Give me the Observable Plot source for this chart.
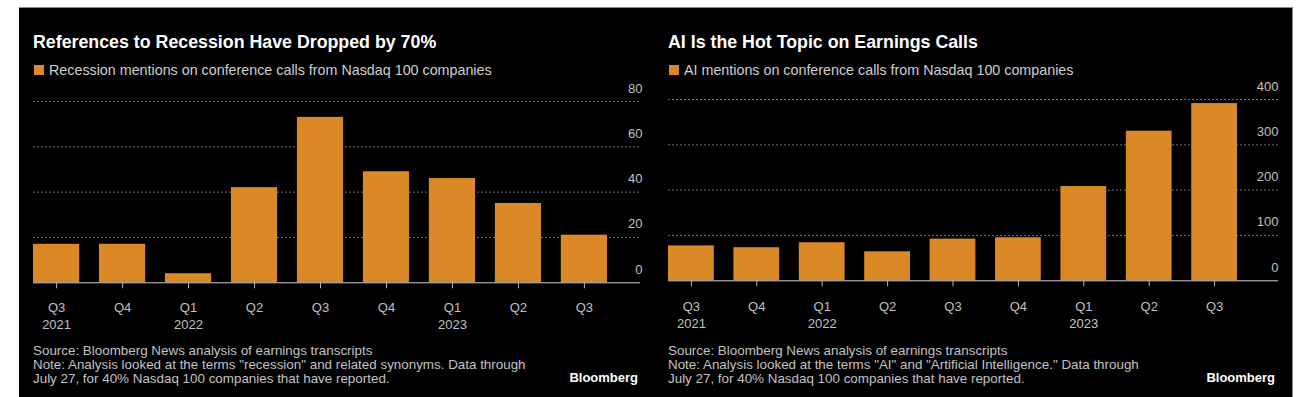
<!DOCTYPE html>
<html><head><meta charset="utf-8">
<script src="https://cdn.jsdelivr.net/npm/d3@7"></script>
<script src="https://cdn.jsdelivr.net/npm/@observablehq/plot@0.6"></script>
<style>
html,body{margin:0;padding:0;background:#fff;width:1297px;height:397px;overflow:hidden;font-family:"Liberation Sans",Arial,sans-serif;}
#box{position:absolute;left:19px;top:7px;width:1273px;height:400px;background:#000;border-top:1px solid #8a8a8a;border-right:1px solid #8a8a8a;}
.abs{position:absolute;white-space:nowrap;}
.title{color:#fff;font-weight:bold;font-size:17.8px;line-height:18px;}
.legend{color:#cfcfcf;font-size:14.3px;line-height:14px;}
.sw{position:absolute;width:10px;height:10px;background:#da8926;}
.foot{color:#c2c2c2;font-size:13.4px;line-height:14px;}
.logo{color:#fff;font-weight:bold;font-size:13px;line-height:13px;text-align:right;}
.chart{position:absolute;}
</style></head>
<body>
<div id="box"></div>
<script>
// ---- data ----
const periods = ["2021 Q3","2021 Q4","2022 Q1","2022 Q2","2022 Q3","2022 Q4","2023 Q1","2023 Q2","2023 Q3"];
const tickLabels = ["Q3\n2021","Q4","Q1\n2022","Q2","Q3","Q4","Q1\n2023","Q2","Q3"];
const recession = [17, 17, 4, 42, 73, 49, 46, 35, 21];
const aiMentions = [77, 73, 84, 64, 92, 95, 208, 330, 391];
const recessionTicks = [0, 20, 40, 60, 80];
const aiTicks = [0, 100, 200, 300, 400];
const titles = ["References to Recession Have Dropped by 70%", "AI Is the Hot Topic on Earnings Calls"];
const legends = ["Recession mentions on conference calls from Nasdaq 100 companies", "AI mentions on conference calls from Nasdaq 100 companies"];
const notes = [
  ["Source: Bloomberg News analysis of earnings transcripts", "Note: Analysis looked at the terms \"recession\" and related synonyms. Data through", "July 27, for 40% Nasdaq 100 companies that have reported."],
  ["Source: Bloomberg News analysis of earnings transcripts", "Note: Analysis looked at the terms \"AI\" and \"Artificial Intelligence.\" Data through", "July 27, for 40% Nasdaq 100 companies that have reported."]
];
const logo = "Bloomberg";

const ORANGE = "#da8926";
const FONT = "'Liberation Sans', Arial, sans-serif";

function chart(values, ticks, o) {
  const data = periods.map((p, i) => ({period: p, value: values[i]}));
  return Plot.plot({
    width: 630, height: 260,
    marginLeft: 13, marginRight: o.mr, marginTop: o.mt, marginBottom: o.mb,
    style: {background: "transparent", color: "#bdbdbd", fontFamily: FONT, fontSize: "13px", overflow: "visible"},
    x: {type: "band", domain: periods, paddingInner: 0.3, paddingOuter: 0, round: false, insetRight: o.inset},
    y: {domain: [0, ticks[ticks.length - 1]], axis: null},
    marks: [
      Plot.ruleY(ticks.filter(t => t > 0), {stroke: "#6e6e6e", strokeDasharray: "2,2"}),
      Plot.barY(data, {x: "period", y: "value", fill: ORANGE}),
      Plot.ruleY([0], {stroke: "#d0d0d0"}),
      Plot.axisX({tickFormat: d => tickLabels[periods.indexOf(d)], tickSize: 6, tickPadding: o.tp,
        stroke: "#b5b5b5", fill: "#c0c0c0", lineHeight: 1.3, fontSize: 13, label: null}),
      Plot.text(ticks, {y: d => d, frameAnchor: "right", textAnchor: "end", lineAnchor: "bottom",
        dy: -9, dx: o.dx, fill: "#c0c0c0", fontSize: 13})
    ]
  });
}

function addEl(cls, left, top, text) {
  const d = document.createElement("div");
  d.className = "abs " + cls;
  d.style.left = left + "px";
  d.style.top = top + "px";
  d.textContent = text;
  document.body.appendChild(d);
  return d;
}

const panels = [
  {x0: 33, svgLeft: 20, values: recession, ticks: recessionTicks, logoRight: 638,
   o: {mr: 10, mt: 21, mb: 57.7, inset: 33, tp: 11, dx: 2}},
  {x0: 668, svgLeft: 655, values: aiMentions, ticks: aiTicks, logoRight: 1275,
   o: {mr: 7, mt: 19, mb: 59.7, inset: 41, tp: 12, dx: 0}}
];

panels.forEach((p, i) => {
  addEl("title", p.x0, 32.5, titles[i]);
  const sw = document.createElement("div");
  sw.className = "sw"; sw.style.left = (p.x0 + 1) + "px"; sw.style.top = "65px";
  document.body.appendChild(sw);
  addEl("legend", p.x0 + 16, 63, legends[i]);
  const svg = chart(p.values, p.ticks, p.o);
  const wrap = document.createElement("div");
  wrap.className = "chart"; wrap.style.left = p.svgLeft + "px"; wrap.style.top = "80px";
  wrap.appendChild(svg);
  document.body.appendChild(wrap);
  const f = addEl("foot", p.x0, 343.5, "");
  f.innerHTML = notes[i].map(t => t.replace(/&/g, "&amp;").replace(/</g, "&lt;")).join("<br>");
  const l = addEl("logo", 0, 370.5, logo);
  l.style.left = "auto";
  l.style.right = (1297 - p.logoRight) + "px";
});
</script>
</body></html>
